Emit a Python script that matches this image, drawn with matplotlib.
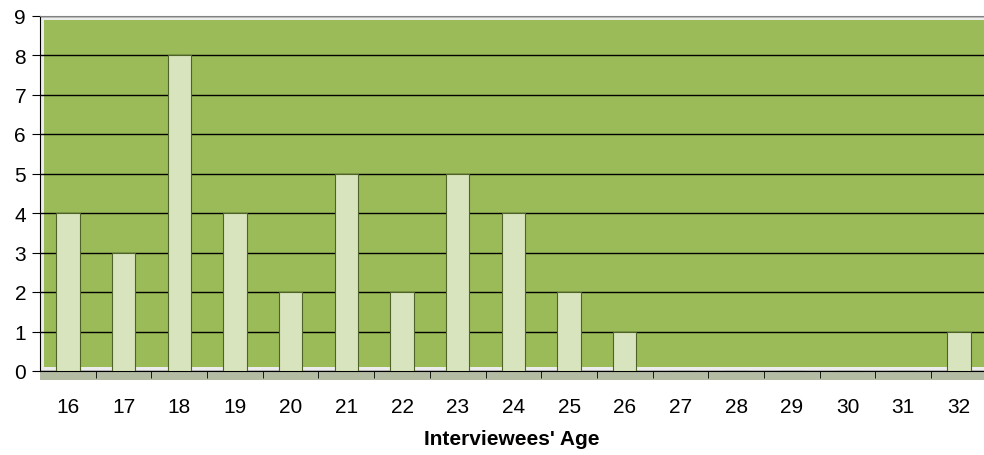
import matplotlib.pyplot as plt
from matplotlib.patches import Rectangle

ages = ['16', '17', '18', '19', '20', '21', '22', '23', '24', '25', '26',
        '27', '28', '29', '30', '31', '32']
counts = [4, 3, 8, 4, 2, 5, 2, 5, 4, 2, 1, 0, 0, 0, 0, 0, 1]

plt.rcParams['font.family'] = ['Liberation Sans', 'DejaVu Sans']

fig = plt.figure(figsize=(9.84, 4.56), dpi=100)
W, H = 984, 456
ax = fig.add_axes([40 / W, 84 / H, (984 - 40) / W, (372 - 16.5) / H])

# back wall: light border with green fill inset
ax.set_facecolor('#ececec')
ax.add_patch(Rectangle((4 / 944, 4 / 355), 1, (355 - 8) / 355, transform=ax.transAxes,
                       facecolor='#9bbb59', edgecolor='none', zorder=0))

x = list(range(len(ages)))
ax.bar(x, counts, width=0.42, color='#d7e4bd', edgecolor='#4f6228',
       linewidth=0.8, zorder=3)

ax.set_xlim(-0.5, 16.45)
ax.set_ylim(0, 9)
ax.set_yticks(range(0, 10))
ax.yaxis.grid(True, color='black', linewidth=1.0, zorder=1)
ax.set_axisbelow(True)

ax.set_xticks(x)
ax.set_xticklabels(ages, fontsize=15)
ax.tick_params(axis='x', length=0, pad=19)
ax.set_xticks([i + 0.5 for i in range(len(ages) - 1)], minor=True)
ax.tick_params(axis='x', which='minor', length=5, direction='out', color='black')
ax.tick_params(axis='y', labelsize=15, length=6, color='black', pad=4)

ax.spines['right'].set_visible(False)
ax.spines['top'].set_color('#808080')
ax.spines['left'].set_color('black')
ax.spines['bottom'].set_color('black')

# floor strip below the plot
ax.add_patch(Rectangle((0, -9 / 355), 1, 9 / 355, transform=ax.transAxes,
                       facecolor='#b4bca4', edgecolor='none', clip_on=False, zorder=0))

ax.set_xlabel("Interviewees' Age", fontsize=15, fontweight='bold', labelpad=9)

fig.savefig('out.png', dpi=100)
